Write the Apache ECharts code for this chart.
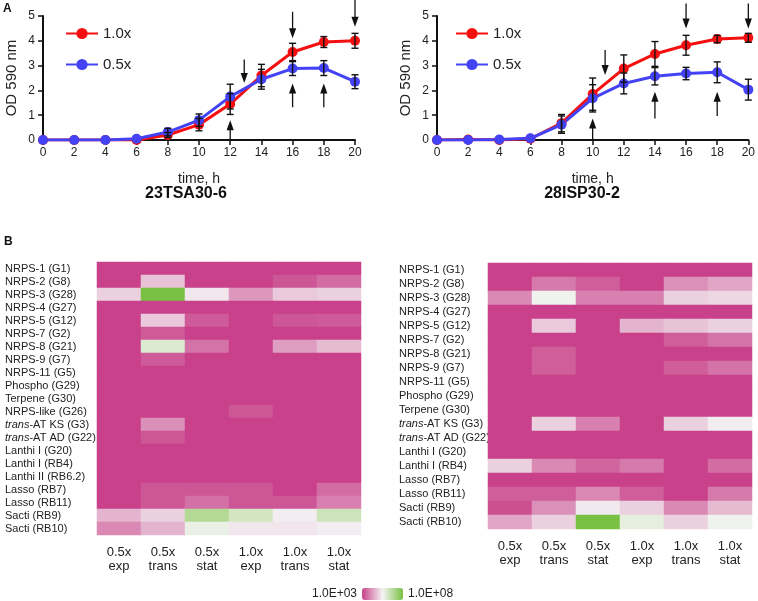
<!DOCTYPE html>
<html><head><meta charset="utf-8">
<script src="https://cdn.jsdelivr.net/npm/echarts@6/dist/echarts.min.js"></script>
<style>html,body{margin:0;padding:0;background:#fff}#c{width:758px;height:601px}</style>
</head><body><div id="c"></div>
<script>
const hours = [0,2,4,6,8,10,12,14,16,18,20];
const tsa10 = [0,0,0,0,0.2,0.62,1.45,2.6,3.55,3.95,4.0];
const tsa10Err = [0,0,0,0,0.1,0.25,0.42,0.45,0.35,0.22,0.3];
const tsa05 = [0,0,0,0.05,0.32,0.8,1.75,2.45,2.88,2.9,2.35];
const tsa05Err = [0,0,0,0,0.15,0.25,0.5,0.4,0.28,0.3,0.28];
const isp10 = [0,0.02,0,0.05,0.68,1.85,2.88,3.47,3.82,4.07,4.12];
const isp10Err = [0,0,0,0,0.35,0.65,0.55,0.5,0.4,0.15,0.18];
const isp05 = [0,0,0.02,0.07,0.62,1.68,2.28,2.57,2.68,2.73,2.03];
const isp05Err = [0,0,0,0,0.35,0.55,0.42,0.35,0.25,0.42,0.42];
// arrows: [x, yStart, yTip]
const tsaArrows = [[12.9,3.25,2.3],[16,5.17,4.1],[20,5.65,4.57],[12,0,0.8],[16,1.32,2.28],[18,1.32,2.28]];
const ispArrows = [[10.8,3.63,2.62],[16,5.5,4.5],[20,5.5,4.5],[10,0,0.87],[14,0.87,1.95],[18,0.97,1.95]];

const cols = ['0.5x\nexp','0.5x\ntrans','0.5x\nstat','1.0x\nexp','1.0x\ntrans','1.0x\nstat'];
const leftRows = ['NRPS-1 (G1)','NRPS-2 (G8)','NRPS-3 (G28)','NRPS-4 (G27)','NRPS-5 (G12)','NRPS-7 (G2)','NRPS-8 (G21)','NRPS-9 (G7)','NRPS-11 (G5)','Phospho (G29)','Terpene (G30)','NRPS-like (G26)','trans-AT KS (G3)','trans-AT AD (G22)','Lanthi I (G20)','Lanthi I (RB4)','Lanthi II (RB6.2)','Lasso (RB7)','Lasso (RB11)','Sacti (RB9)','Sacti (RB10)'];
const leftVals = [
[3,3,3,3,3,3],
[3,4.8,3,3,3.3,3.6],
[5.0,8,5.3,4.2,4.9,5.0],
[3,3,3,3,3,3],
[3,4.9,3.35,3,3.3,3.35],
[3,3.35,3,3,3,3],
[3,6.0,3.7,3,4.3,4.7],
[3,3.35,3,3,3,3],
[3,3,3,3,3,3],
[3,3,3,3,3,3],
[3,3,3,3,3,3],
[3,3,3,3.3,3,3],
[3,4.1,3,3,3,3],
[3,3.3,3,3,3,3],
[3,3,3,3,3,3],
[3,3,3,3,3,3],
[3,3,3,3,3,3],
[3,3.3,3.3,3.3,3,3.6],
[3,3.3,3.65,3.3,3.3,3.9],
[4.6,5.0,6.8,6.2,5.4,6.3],
[4.0,4.6,5.7,5.3,5.3,5.4]];
const rightRows = ['NRPS-1 (G1)','NRPS-2 (G8)','NRPS-3 (G28)','NRPS-4 (G27)','NRPS-5 (G12)','NRPS-7 (G2)','NRPS-8 (G21)','NRPS-9 (G7)','NRPS-11 (G5)','Phospho (G29)','Terpene (G30)','trans-AT KS (G3)','trans-AT AD (G22)','Lanthi I (G20)','Lanthi I (RB4)','Lasso (RB7)','Lasso (RB11)','Sacti (RB9)','Sacti (RB10)'];
const rightVals = [
[3,3,3,3,3,3],
[3,3.8,3.4,3,4.1,4.4],
[4.0,5.6,3.9,3.9,5.0,5.1],
[3,3,3,3,3,3],
[3,4.9,3,4.6,4.8,5.0],
[3,3,3,3,3.4,3.7],
[3,3.4,3,3,3,3],
[3,3.4,3,3,3.4,3.7],
[3,3,3,3,3,3],
[3,3,3,3,3,3],
[3,3,3,3,3,3],
[3,5.0,3.9,3,5.0,5.4],
[3,3,3,3,3,3],
[3,3,3,3,3,3],
[5.0,4.0,3.5,3.8,3,3.6],
[3,3,3,3,3,3],
[3.4,3.4,4.0,3.4,3,3.8],
[3.2,4.1,5.35,5.0,4.0,4.7],
[4.4,5.0,8,5.8,5.0,5.6]];

const FONT = 'Liberation Sans, Arial, sans-serif';
const RED = '#f41010', BLUE = '#4343f5';

function pairs(ys){ return hours.map((h,i)=>[h,ys[i]]); }
function errData(ys, es){ return hours.map((h,i)=>[h, ys[i]-es[i], ys[i]+es[i]]); }
function toHeat(vals){ const d=[]; vals.forEach((r,ri)=>r.forEach((v,ci)=>d.push([ci,ri,v]))); return d; }

function errRender(params, api){
  const x=api.value(0), lo=api.value(1), hi=api.value(2);
  if (hi-lo < 0.05) return null;
  const p1=api.coord([x,lo]), p2=api.coord([x,hi]);
  const w=3.5, st={stroke:'#111', lineWidth:1.4};
  return {type:'group', children:[
    {type:'line', shape:{x1:p1[0],y1:p1[1],x2:p2[0],y2:p2[1]}, style:st},
    {type:'line', shape:{x1:p1[0]-w,y1:p1[1],x2:p1[0]+w,y2:p1[1]}, style:st},
    {type:'line', shape:{x1:p2[0]-w,y1:p2[1],x2:p2[0]+w,y2:p2[1]}, style:st}
  ]};
}
function arrowRender(params, api){
  const x=api.value(0), y0=api.value(1), y1=api.value(2);
  const p1=api.coord([x,y0]), p2=api.coord([x,y1]);
  const dy = p2[1]>p1[1]?1:-1, hl=10, hw=3.6;
  return {type:'group', children:[
    {type:'line', shape:{x1:p1[0],y1:p1[1],x2:p2[0],y2:p2[1]-dy*hl+dy*1}, style:{stroke:'#111',lineWidth:1.3}},
    {type:'polygon', shape:{points:[[p2[0],p2[1]],[p2[0]-hw,p2[1]-dy*hl],[p2[0]+hw,p2[1]-dy*hl]]}, style:{fill:'#111'}}
  ]};
}

function lineX(gi){ return {type:'value', gridIndex:gi, min:0, max:20, interval:2,
  name:'time, h', nameLocation:'middle', nameGap:32, nameTextStyle:{fontSize:14,color:'#222',fontFamily:FONT},
  axisLine:{lineStyle:{color:'#111',width:2}}, axisTick:{length:5,lineStyle:{color:'#111',width:1.5}},
  axisLabel:{fontSize:12,color:'#222',fontFamily:FONT,margin:7}, splitLine:{show:false}}; }
function lineY(gi){ return {type:'value', gridIndex:gi, min:0, max:5, interval:1,
  name:'OD 590 nm', nameLocation:'middle', nameGap:24, nameTextStyle:{fontSize:15,color:'#222',fontFamily:FONT},
  axisLine:{show:true,lineStyle:{color:'#111',width:2}}, axisTick:{show:true,length:5,lineStyle:{color:'#111',width:1.5}},
  axisLabel:{fontSize:12,color:'#222',fontFamily:FONT,margin:8}, splitLine:{show:false}}; }
function heatY(gi, rows, margin){ return {type:'category', gridIndex:gi, data:rows, inverse:true,
  axisLine:{show:false}, axisTick:{show:false}, splitLine:{show:false},
  axisLabel:{align:'left', margin:margin, fontSize:11, color:'#222', fontFamily:FONT, interval:0,
    formatter:function(v){ return v.indexOf('trans-')===0 ? '{i|trans}'+v.slice(5) : v; },
    rich:{i:{fontStyle:'italic',fontSize:11,color:'#222',fontFamily:FONT}}}}; }
function heatX(gi){ return {type:'category', gridIndex:gi, data:cols,
  axisLine:{show:false}, axisTick:{show:false}, splitLine:{show:false},
  axisLabel:{interval:0, fontSize:13, lineHeight:14, color:'#222', fontFamily:FONT, margin:10}}; }

function lineSeries(name, color, ys, gi){ return {type:'line', name:name, xAxisIndex:gi, yAxisIndex:gi,
  data:pairs(ys), symbol:'circle', symbolSize:10, lineStyle:{width:3,color:color}, itemStyle:{color:color},
  z:2, animation:false}; }

const option = {
  animation:false,
  textStyle:{fontFamily:FONT},
  grid:[
    {left:43, top:16, width:312, height:124},
    {left:437, top:16, width:313, height:124},
    {left:97, top:262, width:264, height:273},
    {left:488, top:263, width:264, height:266}
  ],
  xAxis:[lineX(0), lineX(1), heatX(2), heatX(3)],
  yAxis:[lineY(0), lineY(1), heatY(2,leftRows,92), heatY(3,rightRows,89)],
  legend:[
    {left:65, top:26, padding:0, orient:'vertical', itemWidth:32, itemHeight:14, itemGap:16, data:['1.0x','0.5x'],
      textStyle:{fontSize:15,color:'#222',fontFamily:FONT}, selectedMode:false},
    {left:455, top:26, padding:0, orient:'vertical', itemWidth:32, itemHeight:14, itemGap:16, data:['1.0x','0.5x'],
      textStyle:{fontSize:15,color:'#222',fontFamily:FONT}, selectedMode:false}
  ],
  visualMap:{type:'continuous', min:3, max:8, seriesIndex:[10,11], orient:'horizontal',
    left:297, top:573, itemWidth:12, itemHeight:41, calculable:false, text:['1.0E+08','1.0E+03'], textGap:5,
    textStyle:{fontSize:12,color:'#222',fontFamily:FONT},
    inRange:{color:['#c8418a','#f4f4f4','#79c142']}},
  graphic:[
    {type:'text', x:3, y:3, style:{text:'A', font:'bold 12px '+FONT, fill:'#111'}},
    {type:'text', x:4, y:236, style:{text:'B', font:'bold 12px '+FONT, fill:'#111'}},
    {type:'text', x:186, y:194, style:{text:'23TSA30-6', font:'bold 16px '+FONT, fill:'#111', align:'center', verticalAlign:'middle'}},
    {type:'text', x:582, y:194, style:{text:'28ISP30-2', font:'bold 16px '+FONT, fill:'#111', align:'center', verticalAlign:'middle'}}
  ],
  series:[
    lineSeries('1.0x', RED, tsa10, 0),
    lineSeries('0.5x', BLUE, tsa05, 0),
    lineSeries('1.0x', RED, isp10, 1),
    lineSeries('0.5x', BLUE, isp05, 1),
    {type:'custom', xAxisIndex:0, yAxisIndex:0, renderItem:errRender, data:errData(tsa10,tsa10Err), z:5},
    {type:'custom', xAxisIndex:0, yAxisIndex:0, renderItem:errRender, data:errData(tsa05,tsa05Err), z:5},
    {type:'custom', xAxisIndex:1, yAxisIndex:1, renderItem:errRender, data:errData(isp10,isp10Err), z:5},
    {type:'custom', xAxisIndex:1, yAxisIndex:1, renderItem:errRender, data:errData(isp05,isp05Err), z:5},
    {type:'custom', xAxisIndex:0, yAxisIndex:0, renderItem:arrowRender, data:tsaArrows, clip:false, z:6},
    {type:'custom', xAxisIndex:1, yAxisIndex:1, renderItem:arrowRender, data:ispArrows, clip:false, z:6},
    {type:'heatmap', xAxisIndex:2, yAxisIndex:2, data:toHeat(leftVals), emphasis:{disabled:true}},
    {type:'heatmap', xAxisIndex:3, yAxisIndex:3, data:toHeat(rightVals), emphasis:{disabled:true}}
  ]
};
const chart = echarts.init(document.getElementById('c'), null, {renderer:'canvas'});
chart.setOption(option);
</script></body></html>
